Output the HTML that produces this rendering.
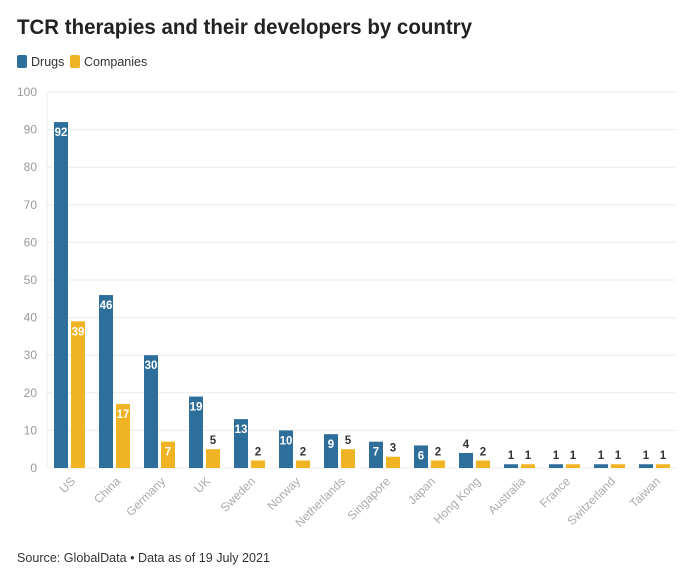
<!DOCTYPE html>
<html><head><style>
body{margin:0;background:#fff;width:700px;height:575px;overflow:hidden;font-family:"Liberation Sans",sans-serif}
</style></head><body>
<svg width="700" height="575" xmlns="http://www.w3.org/2000/svg" font-family="Liberation Sans, sans-serif">
<text x="17" y="34" font-size="21" font-weight="bold" fill="#222" textLength="455" lengthAdjust="spacingAndGlyphs">TCR therapies and their developers by country</text>
<rect x="17" y="55" width="10" height="13" rx="2" fill="#2e6e9a"/>
<text x="31" y="66" font-size="12.5" fill="#333">Drugs</text>
<rect x="70" y="55" width="10" height="13" rx="2" fill="#f0b323"/>
<text x="84" y="66" font-size="12.5" fill="#333">Companies</text>
<text x="17" y="562" font-size="13" fill="#333" textLength="253" lengthAdjust="spacingAndGlyphs">Source: GlobalData • Data as of 19 July 2021</text>
<script>
var ns="http://www.w3.org/2000/svg",svg=document.querySelector('svg');
function el(t,a,txt,p){var e=document.createElementNS(ns,t);for(var k in a)e.setAttribute(k,a[k]);if(txt!=null)e.textContent=txt;(p||svg).appendChild(e);return e;}
var y0=468,s=3.76;
for(var v=0;v<=100;v+=10){var y=y0-v*s;el('line',{x1:47,x2:676,y1:y,y2:y,stroke:'#ececec'});el('text',{x:37,y:y+4,'font-size':12,fill:'#999','text-anchor':'end'},v);}
el('line',{x1:47,x2:47,y1:92,y2:468,stroke:'#ececec'});
var c=['US','China','Germany','UK','Sweden','Norway','Netherlands','Singapore','Japan','Hong Kong','Australia','France','Switzerland','Taiwan'];
var d=[92,46,30,19,13,10,9,7,6,4,1,1,1,1],m=[39,17,7,5,2,2,5,3,2,2,1,1,1,1];
for(var i=0;i<14;i++){
 [[d[i],54+45*i,'#2e6e9a'],[m[i],71+45*i,'#f0b323']].forEach(function(b){
  var h=b[0]*s,x=b[1];el('rect',{x:x,y:y0-h,width:14,height:h,fill:b[2]});
  if(b[0]>=6){el('text',{x:x+7,y:y0-h+14,'font-size':11.5,'font-weight':'bold',fill:'#fff','text-anchor':'middle'},b[0]);}
  else el('text',{x:x+7,y:y0-h-5,'font-size':11.5,'font-weight':'bold',fill:'#333','text-anchor':'middle'},b[0]);
 });
 var lx=76+45*i,ly=482;
 el('text',{x:lx,y:ly,'font-size':12,fill:'#aaa','text-anchor':'end',transform:'rotate(-45 '+lx+' '+ly+')'},c[i]);
}
</script>
</svg>
</body></html>
